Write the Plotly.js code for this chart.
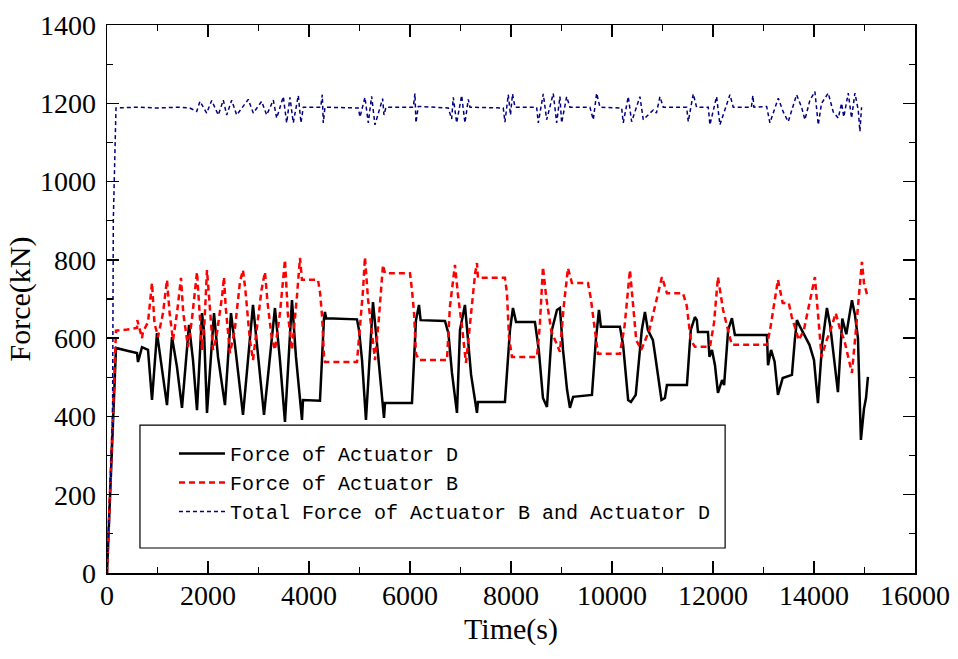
<!DOCTYPE html>
<html>
<head>
<meta charset="utf-8">
<script src="https://cdn.plot.ly/plotly-3.0.1.min.js"></script>
<style>html,body{margin:0;padding:0;background:#fff;}#chart{width:958px;height:659px;}</style>
</head>
<body>
<div id="chart"></div>
<script>
// Force of Actuator D (black)
var tD = [0,178,400,594,614,693,812,891,990,1049,1188,1287,1386,1485,1624,1703,1782,1881,1920,1980,2119,2198,2336,2455,2534,2693,2891,2970,3109,3326,3425,3524,3663,3742,3861,3881,4217,4297,4316,4340,4950,4990,5050,5128,5267,5340,5465,5485,5505,6039,6118,6178,6210,6692,6760,6831,6930,6990,7088,7150,7210,7326,7346,7880,7980,8039,8100,8474,8550,8633,8712,8810,8910,8969,9030,9110,9167,9230,9603,9680,9742,9780,10157,10220,10320,10375,10470,10590,10652,10710,10810,10850,10980,11048,11088,11484,11560,11642,11680,11702,11900,11930,11980,12040,12098,12180,12220,12300,12375,12434,13068,13090,13150,13220,13286,13380,13563,13620,13662,13720,13910,14000,14078,14160,14256,14320,14380,14474,14560,14640,14751,14810,14870,14929,14990,15030,15068];
var fD = [0,575,568,562,539,577,570,442,613,557,429,603,526,422,634,544,416,664,621,409,664,552,429,664,583,404,685,583,404,677,544,386,697,552,391,442,440,651,667,651,648,621,544,391,692,595,429,396,434,434,646,685,646,644,613,511,409,621,685,595,506,409,437,437,621,677,641,641,570,447,424,621,672,677,570,468,422,450,455,595,672,629,629,583,442,437,455,621,667,621,595,560,442,447,480,480,621,654,646,616,616,552,570,530,460,493,480,621,651,608,608,531,570,540,455,498,506,595,646,630,583,544,434,583,677,633,570,462,650,610,697,660,600,340,420,447,501];

// Force of Actuator B (red)
var tB = [0,178,400,594,600,693,712,812,891,940,1010,1109,1188,1240,1307,1386,1465,1510,1604,1680,1782,1830,1881,1930,1980,2030,2099,2160,2280,2317,2350,2435,2530,2633,2693,2740,2830,2891,2970,3060,3128,3180,3260,3326,3425,3480,3524,3580,3663,3760,3821,3861,4178,4220,4260,4297,4316,4950,5009,5070,5108,5170,5240,5307,5380,5440,5465,5505,6000,6039,6080,6118,6178,6732,6790,6890,6950,7030,7108,7160,7290,7326,7346,7880,7920,7960,8019,8514,8570,8633,8700,8800,8969,9040,9128,9207,9524,9580,9680,9722,10157,10250,10355,10420,10480,10580,10740,10989,11088,11405,11480,11560,11642,11940,12020,12098,12200,12330,12375,13068,13130,13286,13380,13500,13560,13700,13800,14018,14040,14150,14250,14330,14430,14520,14600,14751,14830,14890,14949,14990,15068];
var fB = [0,619,622,626,646,600,616,641,741,638,603,664,749,664,595,664,754,664,578,646,769,672,570,641,774,690,570,598,708,756,680,562,621,744,774,723,595,544,621,723,769,690,603,570,664,749,800,664,570,705,805,749,749,715,654,552,539,539,621,723,807,698,621,544,644,741,787,766,766,723,665,560,544,544,680,787,710,629,537,600,766,792,754,754,715,603,552,552,632,782,702,617,565,676,779,741,741,702,598,560,560,632,774,680,595,570,621,756,715,715,683,595,578,578,639,756,672,603,583,583,621,749,690,690,654,595,621,756,723,552,595,621,664,621,595,511,621,708,795,741,703];

// Total Force of Actuator B and Actuator D (blue)
var tT = [0,60,110,125,178,600,1000,1400,1640,1776,1841,1974,2073,2204,2303,2370,2469,2568,2798,2897,3063,3162,3293,3360,3491,3558,3623,3689,3788,3841,3887,4231,4263,4283,4316,4976,5009,5108,5174,5240,5306,5458,5485,5524,6065,6098,6118,6164,6758,6825,6857,6924,7023,7088,7154,7187,7847,7880,7946,7990,8030,8079,8508,8540,8639,8706,8837,8904,8969,9003,9102,9167,9563,9629,9696,9761,10191,10223,10322,10389,10553,10619,10817,10880,10949,11015,11478,11510,11609,11675,11906,11939,12071,12137,12335,12401,12760,12790,12810,13062,13127,13292,13391,13490,13655,13754,13820,13919,14018,14084,14150,14282,14381,14480,14546,14590,14678,14744,14810,14876,14909,14942];
var fT = [0,250,400,900,1188,1190,1188,1190,1188,1179,1205,1175,1207,1170,1208,1170,1208,1170,1210,1175,1205,1170,1208,1162,1217,1150,1215,1150,1220,1150,1190,1190,1222,1150,1190,1188,1165,1215,1150,1218,1145,1212,1170,1190,1190,1225,1150,1192,1188,1160,1215,1150,1220,1150,1210,1190,1188,1152,1222,1170,1224,1190,1190,1150,1224,1158,1225,1150,1217,1150,1217,1190,1190,1158,1226,1190,1188,1150,1217,1153,1217,1158,1183,1175,1217,1190,1190,1153,1224,1190,1190,1145,1217,1145,1222,1190,1190,1220,1190,1192,1150,1213,1178,1153,1222,1190,1158,1208,1230,1145,1200,1226,1178,1162,1200,1165,1226,1162,1226,1183,1128,1190];

var names = ['Force of Actuator D','Force of Actuator B','Total Force of Actuator B and Actuator D'];

var serif = 'Liberation Serif';

var traces = [
  {x:tD, y:fD, mode:'lines', name:names[0], line:{color:'#000000', width:2.5}},
  {x:tB, y:fB, mode:'lines', name:names[1], line:{color:'#ff0000', width:2.5, dash:'6px,4px'}},
  {x:tT, y:fT, mode:'lines', name:names[2], line:{color:'#000080', width:1.5, dash:'4px,3px'}}
];

var axisCommon = {
  ticks:'inside', ticklen:12, tickwidth:1.5, tickcolor:'#000',
  showline:true, linecolor:'#000', linewidth:1.5, mirror:'ticks',
  showgrid:false, zeroline:false, tickformat:'d', separatethousands:false,
  tickfont:{family:serif, size:28, color:'#000'}
};

var layout = {
  width:958, height:659,
  margin:{l:107, r:43, t:25, b:86},
  paper_bgcolor:'#ffffff', plot_bgcolor:'#ffffff',
  font:{family:serif, size:28, color:'#000'},
  showlegend:true,
  xaxis:Object.assign({}, axisCommon, {
    range:[0,16000], tick0:0, dtick:2000,
    minor:{dtick:1000, ticks:'inside', ticklen:6, tickwidth:1.2, tickcolor:'#000'},
    ticklabelstandoff:-3,
    title:{text:'Time(s)', font:{family:serif, size:30, color:'#000'}, standoff:8}
  }),
  yaxis:Object.assign({}, axisCommon, {
    range:[0,1400], tick0:0, dtick:200,
    minor:{dtick:100, ticks:'inside', ticklen:6, tickwidth:1.2, tickcolor:'#000'},
    ticklabelstandoff:4,
    title:{text:'Force(kN)', font:{family:serif, size:30, color:'#000'}, standoff:0}
  }),
  legend:{
    x:0.0829, y:0.2536, xanchor:'left', yanchor:'top',
    bgcolor:'rgba(0,0,0,0)', borderwidth:0,
    font:{family:'Liberation Mono', size:20, color:'#000'},
    itemwidth:46, tracegroupgap:0
  },
  shapes:[{type:'rect', xref:'paper', yref:'paper', x0:0.0408, x1:0.765, y0:0.0456, y1:0.270, line:{color:'#000', width:1.2}, fillcolor:'rgba(0,0,0,0)'}]
};

Plotly.newPlot('chart', traces, layout, {displayModeBar:false, staticPlot:true});
</script>
</body>
</html>
